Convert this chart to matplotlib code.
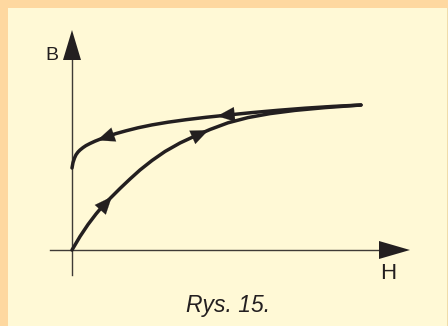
import numpy as np
import matplotlib
matplotlib.use("Agg")
import matplotlib.pyplot as plt
from matplotlib.patches import Rectangle, Polygon

# ---- data (H, B in arbitrary units) ----
H_initial = [0.0, 0.277, 0.554, 0.830, 1.107, 1.384, 1.661, 2.007, 2.353, 2.768, 3.218,
             3.737, 4.256, 4.775, 5.398, 6.090, 6.851, 7.716, 8.754, 10.0]
B_initial = [0.0, 0.466, 0.879, 1.241, 1.569, 1.845, 2.121, 2.448, 2.759, 3.086, 3.397,
             3.690, 3.931, 4.155, 4.386, 4.566, 4.703, 4.814, 4.910, 5.0]

H_return = [0.0, 0.035, 0.087, 0.138, 0.208, 0.277, 0.381, 0.484, 0.623, 0.796, 1.003,
            1.246, 1.522, 1.869, 2.284, 2.768, 3.322, 3.945, 4.637, 5.398, 6.228,
            7.128, 8.062, 9.031, 10.0]
B_return = [2.828, 3.017, 3.172, 3.283, 3.379, 3.448, 3.531, 3.600, 3.672, 3.752, 3.834,
            3.924, 4.014, 4.110, 4.214, 4.314, 4.407, 4.493, 4.576, 4.655, 4.738,
            4.817, 4.890, 4.952, 5.0]

# arrow positions along curves: (tip H, tail H)
arrows_initial = [(1.38, 0.70), (4.72, 4.00)]
arrows_return = [(0.87, 1.60), (5.02, 5.80)]

axis_labels = ["H", "B"]
caption = "Rys. 15."

W, Hpx = 448, 326
fig = plt.figure(figsize=(W / 100, Hpx / 100), dpi=100)
fig.patch.set_facecolor("#fed8a0")
fig.patches.append(Rectangle((8 / W, 0), (439) / W, (Hpx - 8) / Hpx,
                             transform=fig.transFigure, facecolor="#fff9d6",
                             edgecolor="none", zorder=-10))
fig.patches.append(Rectangle((447 / W, 0), 1 / W, (Hpx - 8) / Hpx,
                             transform=fig.transFigure, facecolor="#efdcaa",
                             edgecolor="none", zorder=-10))

ax = fig.add_axes([0, 0, 1, 1])
ax.set_zorder(5)
sx, sy = 28.9, 29.0
ox, oy = 72, 250
ax.set_xlim(-ox / sx, (W - ox) / sx)
ax.set_ylim(-(Hpx - oy) / sy, oy / sy)
ax.axis("off")
ax.patch.set_alpha(0)

axis_col = "#3f3b36"
curve_col = "#231f20"

# axes lines with arrowheads
x_start, x_tip, head_len, head_hw = -22 / sx, 410 / sx - ox / sx, 31 / sx, 9 / sy
ax.plot([x_start, x_tip - head_len + 0.05], [0, 0], color=axis_col, lw=1.0, zorder=2)
ax.add_patch(Polygon([[x_tip, 0], [x_tip - head_len, head_hw], [x_tip - head_len, -head_hw]],
                     closed=True, facecolor=curve_col, edgecolor="none", zorder=3))
y_start, y_tip, vhead_len, vhead_hw = -25 / sy, 220 / sy, 30 / sy, 9 / sx
ax.plot([0, 0], [y_start, y_tip - vhead_len + 0.05], color=axis_col, lw=1.0, zorder=2)
ax.add_patch(Polygon([[0, y_tip], [vhead_hw, y_tip - vhead_len], [-vhead_hw, y_tip - vhead_len]],
                     closed=True, facecolor=curve_col, edgecolor="none", zorder=3))

# curves
ax.plot(H_initial, B_initial, color=curve_col, lw=2.5, solid_capstyle="round",
        solid_joinstyle="round", zorder=4)
ax.plot(H_return, B_return, color=curve_col, lw=2.5, solid_capstyle="round",
        solid_joinstyle="round", zorder=4)

def add_arrows(Hs, Bs, specs):
    for tip, tail in specs:
        bt = np.interp(tip, Hs, Bs)
        bl = np.interp(tail, Hs, Bs)
        ax.annotate("", xy=(tip, bt), xytext=(tail, bl),
                    arrowprops=dict(arrowstyle="-|>,head_length=1.0,head_width=0.42",
                                    mutation_scale=12.5, color=curve_col, lw=0.1,
                                    shrinkA=0, shrinkB=0), zorder=5)

add_arrows(H_initial, B_initial, arrows_initial)
add_arrows(H_return, B_return, arrows_return)

# labels
fig.text(52 / W, 1 - 60 / Hpx, axis_labels[1], ha="center", va="baseline",
         fontsize=14, family="Liberation Sans", color=curve_col)
fig.text(388.5 / W, 1 - 279 / Hpx, axis_labels[0], ha="center", va="baseline",
         fontsize=16, family="Liberation Sans", color=curve_col)
fig.text(228 / W, 1 - 312 / Hpx, caption, ha="center", va="baseline",
         fontsize=16.5, family="Liberation Sans", style="italic", color=curve_col)

fig.savefig("out.png", dpi=100, facecolor=fig.get_facecolor())
